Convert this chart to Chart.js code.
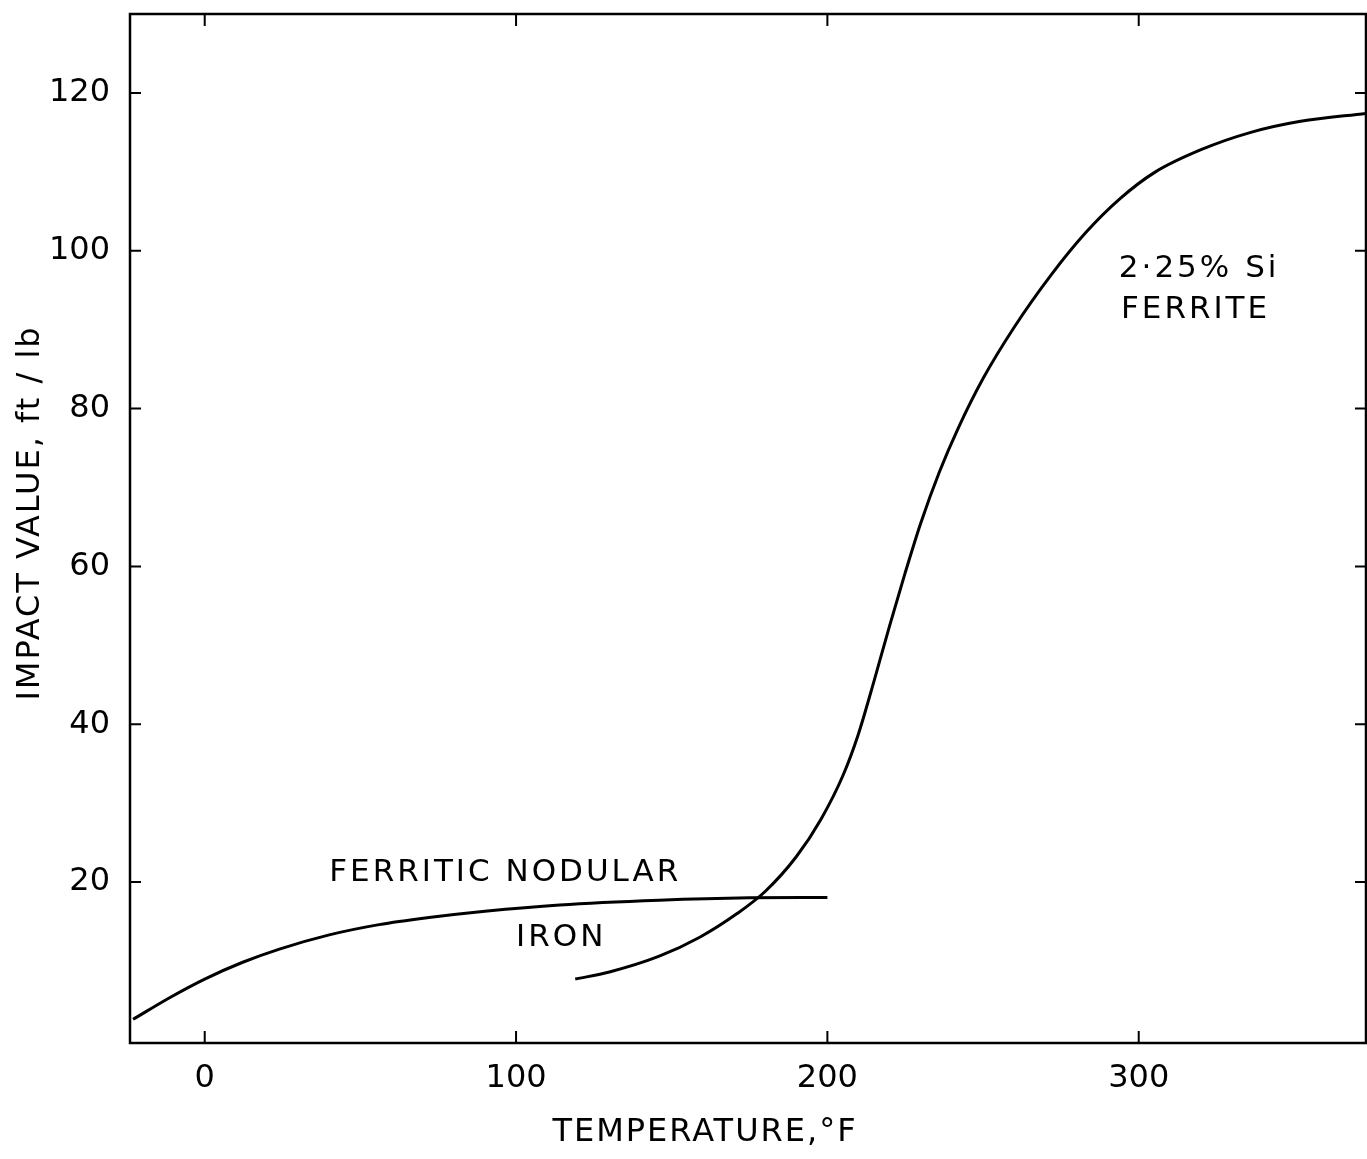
<!DOCTYPE html>
<html>
<head>
<meta charset="utf-8">
<script src="https://cdn.jsdelivr.net/npm/chart.js@4.4.1/dist/chart.umd.min.js"></script>
<style>
  html, body { margin: 0; padding: 0; background: #fff; }
  canvas { display: block; }
</style>
</head>
<body>
<canvas id="impactChart" width="1367" height="1159"></canvas>
<script>
// Ferritic nodular iron curve (temperature in °F, impact value in ft/lb)
const nodularTemp   = [-23, -11, 0, 12, 24, 40, 56, 72, 90, 114, 146, 175, 200];
const nodularImpact = [2.6, 5.4, 7.7, 9.8, 11.5, 13.3, 14.6, 15.5, 16.3, 17.1, 17.7, 18.0, 18.05];

// 2.25% Si ferrite curve
const siTemp   = [119, 130, 146, 159, 171, 180, 190, 198, 205, 210, 215, 220, 225, 230, 236, 242, 250, 260, 272, 283, 294, 305, 320, 336, 352, 373];
const siImpact = [7.7, 8.6, 10.6, 13.0, 16.0, 18.8, 23.2, 28.0, 33.5, 38.8, 45.5, 52.5, 59.2, 65.5, 72.0, 77.5, 83.8, 90.3, 97.0, 102.3, 106.6, 109.9, 112.8, 115.0, 116.4, 117.4];

const xTickValues = [0, 100, 200, 300];
const yTickValues = [20, 40, 60, 80, 100, 120];

// text written beside the curves, anchored in data units
const curveNotes = [
    { text: 'FERRITIC NODULAR', x: 40, y: 21.2 },
    { text: 'IRON', x: 100, y: 12.9 },
    { text: '2·25% Si', x: 293.6, y: 97.7 },
    { text: 'FERRITE', x: 294.3, y: 92.5 }
];

const FONT = '"DejaVu Sans", sans-serif';
Chart.defaults.font.family = FONT;
Chart.defaults.color = '#000';

function toPoints(xs, ys) {
    return xs.map((x, i) => ({ x: x, y: ys[i] }));
}

// box, inward tick marks, notes and axis titles
const framePlugin = {
    id: 'frame',
    afterDraw(chart) {
        const ctx = chart.ctx;
        const area = chart.chartArea;
        const xs = chart.scales.x;
        const ys = chart.scales.y;
        ctx.save();
        ctx.strokeStyle = '#000';
        ctx.lineWidth = 2.5;
        ctx.strokeRect(area.left, area.top, area.right - area.left, area.bottom - area.top);

        ctx.lineWidth = 2;
        ctx.beginPath();
        xTickValues.forEach(v => {
            const px = xs.getPixelForValue(v);
            ctx.moveTo(px, area.bottom);
            ctx.lineTo(px, area.bottom - 12);
            ctx.moveTo(px, area.top);
            ctx.lineTo(px, area.top + 12);
        });
        yTickValues.forEach(v => {
            const py = ys.getPixelForValue(v);
            ctx.moveTo(area.left, py);
            ctx.lineTo(area.left + 11, py);
            ctx.moveTo(area.right, py);
            ctx.lineTo(area.right - 11, py);
        });
        ctx.stroke();

        ctx.fillStyle = '#000';
        ctx.font = '31px ' + FONT;
        ctx.letterSpacing = '3px';
        ctx.textAlign = 'left';
        ctx.textBaseline = 'middle';
        curveNotes.forEach(n => {
            ctx.fillText(n.text, xs.getPixelForValue(n.x), ys.getPixelForValue(n.y));
        });

        ctx.font = '32px ' + FONT;
        ctx.letterSpacing = '2px';
        ctx.textAlign = 'center';
        ctx.fillText('TEMPERATURE,°F', 705, 1133);

        ctx.translate(31, 513);
        ctx.rotate(-Math.PI / 2);
        ctx.fillText('IMPACT VALUE, ft / lb', 0, 0);
        ctx.restore();
    }
};

const ctx = document.getElementById('impactChart').getContext('2d');

const impactChart = new Chart(ctx, {
    type: 'line',
    data: {
        datasets: [
            {
                label: 'Ferritic nodular iron',
                data: toPoints(nodularTemp, nodularImpact),
                borderColor: '#000',
                borderWidth: 3,
                pointRadius: 0,
                fill: false,
                cubicInterpolationMode: 'monotone'
            },
            {
                label: '2·25% Si ferrite',
                data: toPoints(siTemp, siImpact),
                borderColor: '#000',
                borderWidth: 3,
                pointRadius: 0,
                fill: false,
                cubicInterpolationMode: 'monotone'
            }
        ]
    },
    options: {
        responsive: false,
        animation: false,
        events: [],
        layout: { padding: { top: 14, right: 1, left: 0, bottom: 0 } },
        plugins: {
            legend: { display: false },
            tooltip: { enabled: false }
        },
        scales: {
            x: {
                type: 'linear',
                min: -24,
                max: 373,
                grid: { display: false },
                border: { display: false },
                ticks: { font: { size: 32 }, padding: 8, maxRotation: 0 },
                afterBuildTicks: s => { s.ticks = xTickValues.map(v => ({ value: v })); },
                afterFit: s => { s.height = 116; s.paddingLeft = 0; s.paddingRight = 0; }
            },
            y: {
                type: 'linear',
                min: -0.4,
                max: 130,
                grid: { display: false },
                border: { display: false },
                ticks: { font: { size: 32 }, padding: 12 },
                afterBuildTicks: s => { s.ticks = yTickValues.map(v => ({ value: v })); },
                afterFit: s => { s.width = 130; s.paddingTop = 0; s.paddingBottom = 0; }
            }
        }
    },
    plugins: [framePlugin]
});
</script>
</body>
</html>
